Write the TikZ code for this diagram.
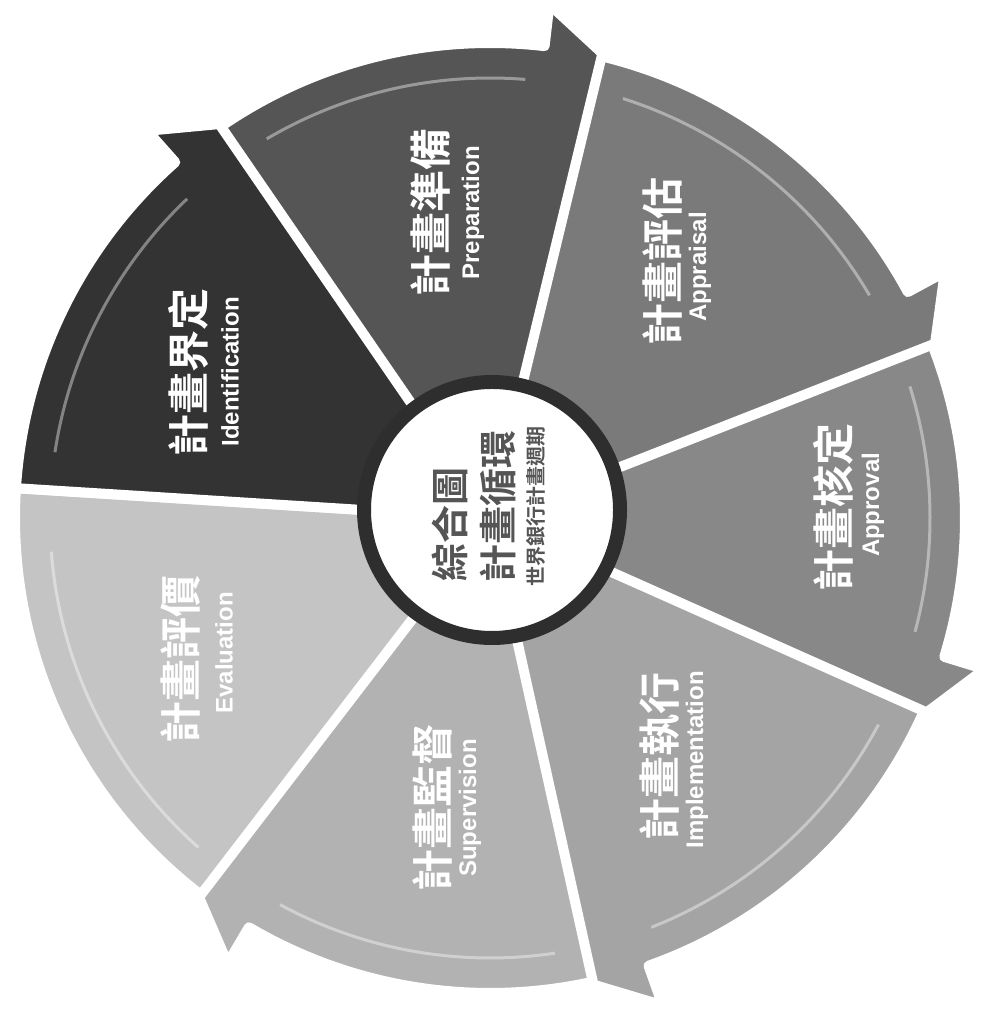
\documentclass[tikz,border=0pt]{standalone}
\usepackage{fontspec}
\setmainfont{Liberation Sans}
\newfontfamily\cjk{Noto Sans CJK TC}
\newfontfamily\cjkb{Noto Sans CJK TC Bold}
\definecolor{g1}{HTML}{333333}
\definecolor{g2}{HTML}{555555}
\definecolor{g3}{HTML}{7A7A7A}
\definecolor{g4}{HTML}{888888}
\definecolor{g5}{HTML}{A4A4A4}
\definecolor{g6}{HTML}{B2B2B2}
\definecolor{g7}{HTML}{C4C4C4}
\definecolor{ring}{HTML}{2E2E2E}
\definecolor{ctext}{HTML}{555555}
\begin{document}
\begin{tikzpicture}[x=0.5pt,y=0.5pt,
  seg/.style={draw=white, line width=5pt, line join=round},
  shine/.style={draw=white, opacity=0.4, line width=1.5pt},
  maintext/.style={rotate=90, text=white, font=\cjkb\fontsize{21}{21}\selectfont, inner sep=0pt},
  subtext/.style={rotate=90, text=white, font=\bfseries\fontsize{12}{12}\selectfont, inner sep=0pt},
  centertext/.style={rotate=90, text=ctext, inner sep=0pt},
  hubstyle/.style={circle, draw=ring, line width=7pt, fill=white, minimum size=128pt, inner sep=0pt}
]
\useasboundingbox (0,0) rectangle (985,1015);
\begin{scope}[shift={(490,497)}]
% segment 7 (its arrow end is hidden under segment 1)
\filldraw[seg, fill=g7] (0,0) -- (-126.5:475) arc[start angle=-126.5, end angle=-183.6, radius=475] -- cycle;
\draw[shine] (-131.5:440) arc[start angle=-131.5, end angle=-175.6, radius=440];
\foreach \a/\b/\c in {-76.5/-126.5/g6, -23/-76.5/g5, 22.4/-23/g4, 77.4/22.4/g3, 125.5/77.4/g2, 176.4/125.5/g1}{
  \filldraw[seg, fill=\c] (0,0) -- (\a:475) arc[start angle=\a, end angle=\b+6, radius=475]
     -- (\b+6:517) -- (\b-1:478) -- cycle;
  \draw[shine] (\a-5:440) arc[start angle=\a-5, end angle=\b+8, radius=440];
}
\end{scope}
\node[hubstyle] (hub) at (492,505) {};
% segment labels
\node[maintext] (t1) at (188,642) {計畫界定};
\node[subtext]  (s1) at (230,643) {Identification};
\node[maintext] (t2) at (431,802) {計畫準備};
\node[subtext]  (s2) at (473,802) {Preparation};
\node[maintext] (t3) at (662,753) {計畫評估};
\node[subtext]  (s3) at (700,748) {Appraisal};
\node[maintext] (t4) at (833,507) {計畫核定};
\node[subtext]  (s4) at (873,510) {Approval};
\node[maintext] (t5) at (660,258) {計畫執行};
\node[subtext]  (s5) at (697,255) {Implementation};
\node[maintext] (t6) at (432,207) {計畫監督};
\node[subtext]  (s6) at (470,207) {Supervision};
\node[maintext] (t7) at (180,355) {計畫評價};
\node[subtext]  (s7) at (224,362) {Evaluation};
% center text
\node[centertext, font=\cjkb\fontsize{19}{19}\selectfont] (c1) at (450,490) {綜合圖};
\node[centertext, font=\cjkb\fontsize{19}{19}\selectfont] (c2) at (498,508) {計畫循環};
\node[centertext, font=\cjkb\fontsize{10}{10}\selectfont] (c3) at (536,508) {世界銀行計畫週期};
\end{tikzpicture}
\end{document}
